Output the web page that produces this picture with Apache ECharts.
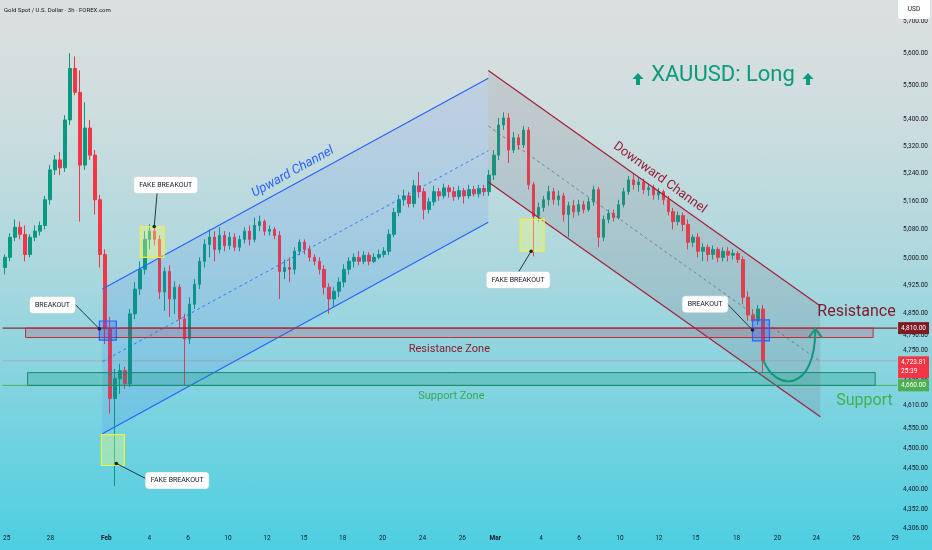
<!DOCTYPE html>
<html><head><meta charset="utf-8">
<script src="https://cdn.jsdelivr.net/npm/echarts@6/dist/echarts.min.js"></script>
<style>
html,body{margin:0;padding:0;}
#c{width:932px;height:550px;background:linear-gradient(to bottom,#dcdfdf 0%,#cdddde 22%,#a9d7de 50%,#74d2e0 78%,#4ccfe1 100%);}
</style>
</head><body><div id="c"></div>
<script>
// ---- data: 6h candles [open, close, low, high] ----
const candles = [
[4974,5002,4955,5010],[5002,5058,4991,5069],[5058,5086,5047,5108],[5086,5066,5052,5102],[5066,5010,4991,5091],
[5010,5058,5002,5066],[5058,5075,5047,5091],[5075,5091,5063,5102],[5091,5164,5080,5175],[5164,5250,5150,5264],
[5250,5279,5235,5293],[5279,5256,5235,5302],[5256,5397,5244,5411],[5397,5553,5382,5600],[5553,5480,5471,5590],
[5480,5264,5102,5547],[5264,5373,5250,5450],[5373,5293,5279,5397],[5293,5164,5122,5308],[5164,5010,4974,5178],
[5010,4808,4768,5024],[4808,4626,4588,4840],[4626,4677,4407,4703],[4677,4698,4638,4716],[4698,4664,4651,4708],
[4664,4848,4656,4861],[4848,4915,4834,4934],[4915,4969,4899,4991],[4969,5052,4955,5075],[5052,5075,5024,5094],
[5075,5052,5035,5086],[5052,4907,4888,5063],[4907,4963,4856,4974],[4963,4888,4840,4980],[4888,4920,4848,4936],
[4920,4834,4808,4928],[4834,4781,4659,4848],[4781,4874,4768,4893],[4874,4928,4861,4942],[4928,4991,4915,5002],
[4991,5038,4974,5052],[5038,5058,5002,5080],[5058,5024,4991,5075],[5024,5063,5013,5086],[5063,5035,5019,5075],
[5035,5058,5024,5072],[5058,5030,5019,5069],[5030,5052,5019,5063],[5052,5075,5041,5086],[5075,5052,5035,5091],
[5052,5091,5044,5113],[5091,5102,5075,5119],[5102,5075,5063,5108],[5075,5080,5063,5091],[5080,5063,5052,5086],
[5063,4963,4888,5075],[4963,4974,4942,4996],[4974,4969,4934,5002],[4969,5019,4955,5030],[5019,5044,5008,5052],
[5044,5024,5010,5052],[5024,5002,4991,5035],[5002,4991,4980,5010],[4991,4969,4955,5002],[4969,4920,4901,4980],
[4920,4888,4848,4931],[4888,4909,4866,4920],[4909,4934,4893,4947],[4934,4969,4920,4983],[4969,4991,4955,5002],
[4991,5002,4974,5013],[5002,4991,4980,5019],[4991,5008,4983,5019],[5008,4991,4980,5016],[4991,5002,4986,5013],
[5002,5010,4996,5024],[5010,5019,5002,5030],[5019,5066,5008,5080],[5066,5128,5058,5141],[5128,5164,5117,5178],
[5164,5175,5147,5193],[5175,5153,5142,5187],[5153,5204,5142,5221],[5204,5187,5170,5244],[5187,5136,5108,5198],
[5136,5158,5125,5170],[5158,5187,5147,5204],[5187,5175,5161,5198],[5175,5198,5167,5210],[5198,5187,5170,5207],
[5187,5173,5161,5201],[5173,5190,5164,5204],[5190,5175,5153,5198],[5175,5193,5167,5207],[5193,5181,5173,5204],
[5181,5196,5170,5207],[5196,5187,5175,5207],[5187,5235,5175,5250],[5235,5293,5221,5308],[5293,5382,5279,5403],
[5382,5403,5367,5420],[5403,5308,5270,5417],[5308,5344,5299,5361],[5344,5323,5308,5355],[5323,5367,5314,5379],
[5367,5207,5193,5376],[5207,5117,5005,5215],[5117,5142,5102,5156],[5142,5164,5130,5175],[5164,5187,5147,5204],
[5187,5164,5150,5198],[5164,5175,5147,5190],[5175,5122,5102,5184],[5122,5147,5058,5158],[5147,5130,5113,5164],
[5130,5150,5119,5164],[5150,5136,5125,5161],[5136,5158,5130,5170],[5158,5193,5147,5204],[5193,5058,5030,5201],
[5058,5108,5047,5119],[5108,5125,5097,5136],[5125,5113,5102,5136],[5113,5150,5108,5164],[5150,5187,5142,5198],
[5187,5221,5178,5232],[5221,5207,5193,5238],[5207,5215,5187,5229],[5215,5193,5181,5224],[5193,5198,5175,5210],
[5198,5178,5164,5207],[5178,5187,5164,5198],[5187,5164,5150,5193],[5164,5130,5119,5175],[5130,5102,5080,5141],
[5102,5119,5091,5130],[5119,5094,5075,5128],[5094,5044,5024,5108],[5044,5058,5030,5066],[5058,5019,5002,5069],
[5019,5030,4991,5041],[5030,5010,4991,5038],[5010,5024,4996,5035],[5024,5002,4988,5030],[5002,5019,4991,5030],
[5019,5008,4991,5030],[5008,5013,4996,5024],[5013,4996,4986,5019],[4996,4893,4874,5005],[4893,4845,4829,4909],
[4845,4829,4803,4861],[4829,4861,4818,4872],[4861,4723.81,4693,4872]
];
const priceTicks = [5700,5600,5500,5400,5320,5240,5160,5080,5000,4925,4850,4790,4750,4670,4610,4550,4500,4450,4400,4352,4306];
const timeTickPos = [0.3,9.1,20.3,28.9,36.7,44.7,52.5,59.9,67.7,75.7,83.7,91.7,98.3,107.5,115.1,123.3,131.1,138.5,146.7,154.9,162.7,170.7,178.5];
const timeTickText = ['25','28','Feb','4','6','10','12','15','18','20','24','26','Mar','4','6','10','12','15','18','20','24','26','29'];
const priceRange = [4301.7, 5767.3];
const slotRange = [-0.5, 185.9];
const axisEdgeSlot = 178.9;
const lastPrice = 4723.81, resistanceLevel = 4810, supportLevel = 4660;

// ---- drawings (slot, price) ----
const upUpper = [[19.5,4915],[96.9,5523]];
const upLower = [[19.5,4537],[96.9,5100]];
const upMid   = [[19.5,4722],[96.9,5306]];
const downUpper = [[96.9,5547],[163.5,4869]];
const downLower = [[96.9,5215],[163.5,4580]];
const downMid   = [[96.9,5379],[163.5,4722]];
const resZone = [[4.1,4810],[174.1,4785]];
const supZone = [[4.5,4693],[174.5,4660]];
const fakeBoxes = [[[27.1,5088],[31.9,5002]],[[19.3,4535],[23.9,4458]],[[103.3,5108],[108.1,5019]]];
const breakBoxes = [[[18.9,4829],[22.3,4778]],[[149.9,4832],[153.3,4776]]];
const fakeLabels = [[32.2,5206],[34.5,4421],[102.9,4940]];
const breakLabels = [[9.5,4872],[140.4,4874]];
const fakeLinks = [[[30.5,5187],[29.9,5088]],[[28.5,4424],[22.3,4463]],[[102.9,4960],[105.5,5019]]];
const breakLinks = [[[14.0,4874],[18.9,4808]],[[144.9,4874],[149.9,4805]]];
const arrowCurve = [[152.1,4724],[154.5,4646],[162.5,4638],[162.5,4808]];

const L = Math.log;
const fmt = p => p.toLocaleString('en-US',{minimumFractionDigits:2,maximumFractionDigits:2});
const chart = echarts.init(document.getElementById('c'));
const FONT = 'Roboto';

chart.setOption({
  animation:false,
  backgroundColor:'transparent',
  grid:{left:0,right:0,top:0,bottom:20},
  xAxis:{type:'value',min:slotRange[0],max:slotRange[1],splitLine:{show:false},axisLine:{show:false},axisTick:{show:false},
    axisLabel:{customValues:timeTickPos,margin:5,fontSize:6.5,color:'#131722',fontFamily:FONT,
      formatter:v=>{let j=0,b=1e9;timeTickPos.forEach((t,k)=>{if(Math.abs(t-v)<b){b=Math.abs(t-v);j=k;}});
        const s=timeTickText[j];return (s==='Feb'||s==='Mar')?'{b|'+s+'}':s;},
      rich:{b:{fontWeight:'bold',fontSize:6.5,color:'#131722',fontFamily:FONT}}}},
  yAxis:{type:'value',position:'right',min:L(priceRange[0]),max:L(priceRange[1]),splitLine:{show:false},axisLine:{show:false},axisTick:{show:false},
    axisLabel:{inside:true,customValues:priceTicks.map(L),margin:4,fontSize:6.5,color:'#131722',fontFamily:FONT,
      formatter:v=>fmt(Math.exp(v))}},
  series:[{type:'candlestick',data:candles.map((d,i)=>[i,L(d[0]),L(d[1]),L(d[2]),L(d[3])]),barWidth:3,
    itemStyle:{color:'#089981',color0:'#f23645',borderColor:'#089981',borderColor0:'#f23645',borderWidth:1}}]
});

const P = pt => chart.convertToPixel({gridIndex:0},[pt[0],L(pt[1])]);
const els = [];
function poly(pts,style,z){els.push({type:'polygon',shape:{points:pts.map(P)},style,z:z||5});}
function seg(a,b,style,z){const p=P(a),q=P(b);els.push({type:'line',shape:{x1:p[0],y1:p[1],x2:q[0],y2:q[1]},style,z:z||12});}
function box(a,b,style,z){const p=P(a),q=P(b);els.push({type:'rect',shape:{x:Math.min(p[0],q[0]),y:Math.min(p[1],q[1]),width:Math.abs(q[0]-p[0]),height:Math.abs(q[1]-p[1])},style,z:z||12});}
function txt(pt,str,style,rot){const p=P(pt);els.push({type:'text',x:p[0],y:p[1],rotation:rot||0,style:Object.assign({text:str,align:'center',verticalAlign:'middle'},style),z:20});}
function dot(pt){const p=P(pt);els.push({type:'circle',shape:{cx:p[0],cy:p[1],r:1.8},style:{fill:'#1e222d'},z:21});}

// channels
poly([upUpper[0],upUpper[1],upLower[1],upLower[0]],{fill:'rgba(41,98,255,0.11)'});
seg(upUpper[0],upUpper[1],{stroke:'#2962ff',lineWidth:1.2});
seg(upLower[0],upLower[1],{stroke:'#2962ff',lineWidth:1.2});
seg(upMid[0],upMid[1],{stroke:'rgba(41,98,255,0.8)',lineWidth:1,lineDash:[3,3]});
poly([downUpper[0],downUpper[1],downLower[1],downLower[0]],{fill:'rgba(125,110,130,0.18)'});
seg(downUpper[0],downUpper[1],{stroke:'#a51e38',lineWidth:1.2});
seg(downLower[0],downLower[1],{stroke:'#a51e38',lineWidth:1.2});
seg(downMid[0],downMid[1],{stroke:'rgba(110,110,125,0.8)',lineWidth:1,lineDash:[3,3]});

// horizontal levels
seg([slotRange[0],resistanceLevel],[axisEdgeSlot,resistanceLevel],{stroke:'#6e1020',lineWidth:1});
seg([slotRange[0],lastPrice],[axisEdgeSlot,lastPrice],{stroke:'rgba(242,54,69,0.45)',lineWidth:1,lineDash:[1,1]});
seg([slotRange[0],supportLevel],[axisEdgeSlot,supportLevel],{stroke:'#4caf50',lineWidth:1});
// zones
box(resZone[0],resZone[1],{fill:'rgba(170,60,90,0.22)',stroke:'#c8283a',lineWidth:1});
box(supZone[0],supZone[1],{fill:'rgba(20,150,120,0.25)',stroke:'#138a70',lineWidth:1});
txt([89.1,4755],'Resistance Zone',{fill:'#8b1c2c',font:'11px '+FONT});
txt([89.5,4631],'Support Zone',{fill:'#3aa757',font:'11px '+FONT});
txt([162.9,4853],'Resistance',{fill:'#7f1a2b',font:'16px '+FONT,align:'left'});
txt([166.7,4621],'Support',{fill:'#43b04f',font:'16px '+FONT,align:'left'});
txt([57.7,5244],'Upward Channel',{fill:'#2962ff',font:'italic 13px '+FONT},29*Math.PI/180);
txt([131.3,5227],'Downward Channel',{fill:'#9b1d35',font:'13px '+FONT},-36*Math.PI/180);

// boxes
fakeBoxes.forEach(b=>box(b[0],b[1],{fill:'rgba(250,255,120,0.35)',stroke:'#f0f03c',lineWidth:1.2}));
breakBoxes.forEach(b=>box(b[0],b[1],{fill:'rgba(41,98,255,0.28)',stroke:'#2962ff',lineWidth:1.2}));
fakeLinks.forEach(l=>{seg(l[0],l[1],{stroke:'#24353b',lineWidth:1});});
breakLinks.forEach(l=>{seg(l[0],l[1],{stroke:'#24353b',lineWidth:1});});
dot(fakeLinks[0][1]);dot(fakeLinks[1][1]);dot(fakeLinks[2][1]);dot(breakLinks[0][1]);dot(breakLinks[1][1]);
const lblStyle={fill:'#131722',font:'7px '+FONT,backgroundColor:'#ffffff',padding:[5,5,4,5],borderRadius:3,borderColor:'#d8dbe2',borderWidth:0.5};
fakeLabels.forEach(p=>txt(p,'FAKE BREAKOUT',lblStyle));
breakLabels.forEach(p=>txt(p,'BREAKOUT',lblStyle));

// curved arrow
(function(){const a=P(arrowCurve[0]),b=P(arrowCurve[1]),c=P(arrowCurve[2]),d=P(arrowCurve[3]);
  els.push({type:'bezierCurve',shape:{x1:a[0],y1:a[1],cpx1:b[0],cpy1:b[1],cpx2:c[0],cpy2:c[1],x2:d[0],y2:d[1]},style:{stroke:'#0f9a7c',lineWidth:2,fill:null},z:15});
  els.push({type:'polyline',shape:{points:[[d[0]-7,d[1]+9],[d[0],d[1]],[d[0]+7,d[1]+9]]},style:{stroke:'#0f9a7c',lineWidth:2,fill:null},z:15});
})();

// price tags on axis
function tag(price,str,bg){const p=P([axisEdgeSlot,price]);els.push({type:'text',x:p[0]+1,y:p[1],style:{text:str,fill:'#fff',font:'6.5px '+FONT,backgroundColor:bg,padding:[2,3,2,3],align:'left',verticalAlign:'middle',lineHeight:8},z:30});}
tag(resistanceLevel,fmt(resistanceLevel),'#7d1a22');
(function(){const p=P([axisEdgeSlot,lastPrice]);els.push({type:'text',x:p[0]+1,y:p[1]-4.5,style:{text:fmt(lastPrice)+'\n25:39',fill:'#fff',font:'6.5px '+FONT,backgroundColor:'#f23645',padding:[2,3,2,3],align:'left',verticalAlign:'top',lineHeight:9},z:30});})();
tag(supportLevel,fmt(supportLevel),'#4caf50');

// header texts
els.push({type:'text',x:4,y:10,style:{text:'Gold Spot / U.S. Dollar · 3h · FOREX.com',fill:'#131722',font:'6px '+FONT,align:'left',verticalAlign:'middle'},z:30});
els.push({type:'rect',shape:{x:898,y:-3,width:32,height:22,r:3},style:{fill:'#ffffff'},z:30});
els.push({type:'text',x:914,y:9,style:{text:'USD',fill:'#131722',font:'6.5px '+FONT,align:'center',verticalAlign:'middle'},z:31});
els.push({type:'text',x:723,y:75,style:{text:'XAUUSD: Long',fill:'#0b9a7d',font:'22px '+FONT,align:'center',verticalAlign:'middle'},z:30});
function upArrow(cx,cy){els.push({type:'polygon',shape:{points:[[cx,cy-6],[cx+5.5,cy],[cx+2,cy],[cx+2,cy+6],[cx-2,cy+6],[cx-2,cy],[cx-5.5,cy]]},style:{fill:'#0b9a7d'},z:30});}
upArrow(638,79);upArrow(808,79);

chart.setOption({graphic:{elements:els}});
</script></body></html>
